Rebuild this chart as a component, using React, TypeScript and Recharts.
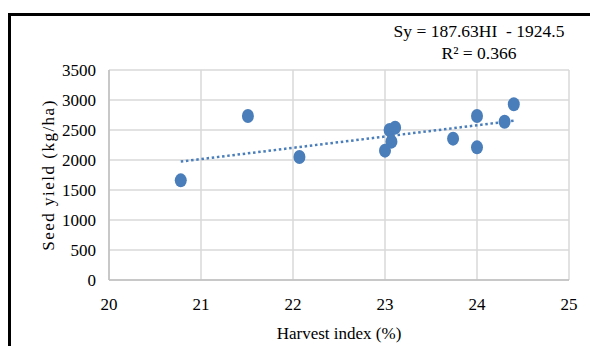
import React from "react";
import {
  ScatterChart,
  Scatter,
  XAxis,
  YAxis,
  CartesianGrid,
  Label,
} from "recharts";

// harvest index (%) and seed yield (kg/ha)
const harvestIndex = [20.78, 21.51, 22.07, 23.0, 23.05, 23.11, 23.07, 23.74, 24.0, 24.0, 24.3, 24.4];
const seedYield = [1661, 2733, 2050, 2156, 2500, 2539, 2306, 2356, 2733, 2211, 2638, 2928];

// linear trendline end points
const trendHI = [20.78, 24.4];
const trendSY = [1974, 2654];

const xTicks = [20, 21, 22, 23, 24, 25];
const yTicks = [0, 500, 1000, 1500, 2000, 2500, 3000, 3500];

const points = harvestIndex.map((hi, i) => ({ hi, sy: seedYield[i] }));
const trend = trendHI.map((hi, i) => ({ hi, sy: trendSY[i] }));

const FONT = "'Liberation Serif', 'Times New Roman', serif";
const BLUE = "#4a7ebb";
const textStyle = { fontFamily: FONT, fontSize: 17, fill: "#000" };

const Dot = (props: any) => {
  const { cx, cy } = props;
  return <ellipse cx={cx} cy={cy} rx={6} ry={7} fill={BLUE} />;
};

const XTick = (props: any) => {
  const { x, y, payload } = props;
  return (
    <text x={x} y={y + 24} textAnchor="middle" style={textStyle}>
      {payload.value}
    </text>
  );
};

const YTick = (props: any) => {
  const { x, y, payload } = props;
  return (
    <text x={x} y={y + 6} textAnchor="end" style={textStyle}>
      {payload.value}
    </text>
  );
};

const App = () => {
  return (
    <div
      style={{
        position: "fixed",
        left: 8,
        top: 13,
        width: 582,
        height: 333,
        borderTop: "3px solid #000",
        borderLeft: "3px solid #000",
        boxSizing: "border-box",
        background: "#fff",
        overflow: "hidden",
        fontFamily: FONT,
      }}
    >
      <div
        style={{
          position: "absolute",
          left: 368,
          top: 4,
          width: 200,
          textAlign: "center",
          fontSize: 17.5,
          lineHeight: "22px",
          color: "#000",
          whiteSpace: "pre",
        }}
      >
        {"Sy = 187.63HI  - 1924.5"}
        <br />
        R² = 0.366
      </div>
      <div style={{ position: "absolute", left: 0, top: 0 }}>
        <ScatterChart
          width={579}
          height={330}
          margin={{ top: 54, right: 21, bottom: 36, left: 0 }}
          style={{ fontFamily: FONT }}
        >
          <CartesianGrid stroke="#d9d9d9" strokeWidth={1.5} />
          <XAxis
            type="number"
            dataKey="hi"
            domain={[20, 25]}
            ticks={xTicks}
            height={30}
            axisLine={{ stroke: "#bfbfbf", strokeWidth: 1.5 }}
            tickLine={false}
            tickSize={6}
            tickMargin={0}
            tick={<XTick />}
          >
            <Label
              content={() => (
                <text x={328} y={323} textAnchor="middle" style={textStyle}>
                  Harvest index (%)
                </text>
              )}
            />
          </XAxis>
          <YAxis
            type="number"
            dataKey="sy"
            domain={[0, 3500]}
            ticks={yTicks}
            width={98}
            axisLine={{ stroke: "#bfbfbf", strokeWidth: 1.5 }}
            tickLine={false}
            tickSize={6}
            tickMargin={7}
            tick={<YTick />}
          >
            <Label
              content={() => (
                <text
                  x={37}
                  y={159}
                  transform="rotate(-90, 37, 159)"
                  textAnchor="middle"
                  dominantBaseline="central"
                  style={{ ...textStyle, letterSpacing: 1.5 }}
                >
                  Seed yield  (kg/ha)
                </text>
              )}
            />
          </YAxis>
          <Scatter
            data={trend}
            isAnimationActive={false}
            line={{ stroke: BLUE, strokeWidth: 2.5, strokeDasharray: "2.5 2.7" }}
            shape={() => <g />}
          />
          <Scatter data={points} isAnimationActive={false} shape={Dot} />
        </ScatterChart>
      </div>
    </div>
  );
};

export default App;
